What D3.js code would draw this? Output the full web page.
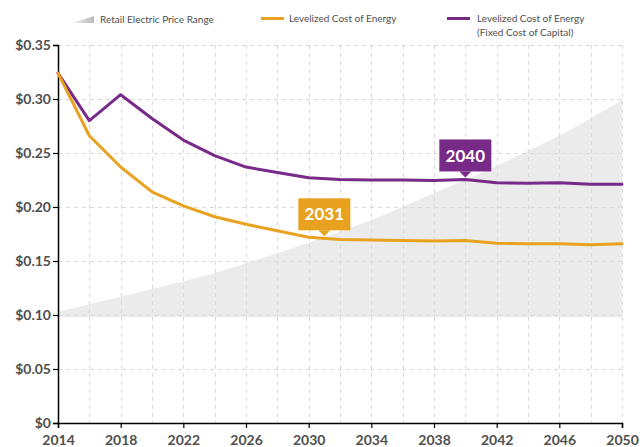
<!DOCTYPE html>
<html>
<head>
<meta charset="utf-8">
<script src="https://cdn.jsdelivr.net/npm/d3@7"></script>
<style>
  html, body { margin: 0; padding: 0; background: #fff; }
  svg { display: block; font-family: Lato, "Open Sans", sans-serif; }
</style>
</head>
<body>
<svg id="chart" width="644" height="447"></svg>
<script>
// Years on the horizontal axis (two-year steps)
const years = [2014, 2016, 2018, 2020, 2022, 2024, 2026, 2028, 2030, 2032,
               2034, 2036, 2038, 2040, 2042, 2044, 2046, 2048, 2050];

// Levelized cost of energy ($/kWh)
const lcoe = [0.324, 0.266, 0.237, 0.214, 0.201, 0.191, 0.184, 0.178, 0.172, 0.170,
              0.1695, 0.169, 0.1685, 0.169, 0.1665, 0.166, 0.166, 0.165, 0.166];

// Levelized cost of energy with a fixed cost of capital ($/kWh)
const lcoeFixed = [0.324, 0.280, 0.304, 0.282, 0.262, 0.2475, 0.237, 0.232, 0.227, 0.2255,
                   0.225, 0.225, 0.2245, 0.2255, 0.2225, 0.222, 0.2225, 0.221, 0.221];

// Retail electric price range ($/kWh)
const retailHigh = [0.103, 0.110, 0.117, 0.124, 0.131, 0.139, 0.148, 0.157, 0.167, 0.177,
                    0.188, 0.200, 0.213, 0.225, 0.238, 0.252, 0.266, 0.282, 0.299];
const retailLow = [0.098, 0.098, 0.098, 0.098, 0.098, 0.098, 0.098, 0.098, 0.098, 0.098,
                   0.098, 0.098, 0.098, 0.098, 0.098, 0.098, 0.098, 0.098, 0.098];

// Axis ticks
const yTicks = [0, 0.05, 0.10, 0.15, 0.20, 0.25, 0.30, 0.35];
const yTickLabels = ["$0", "$0.05", "$0.10", "$0.15", "$0.20", "$0.25", "$0.30", "$0.35"];
const xTicks = [2014, 2018, 2022, 2026, 2030, 2034, 2038, 2042, 2046, 2050];

// Crossover callouts
const callouts = [
  { year: 2031, label: "2031", series: "lcoe" },
  { year: 2040, label: "2040", series: "lcoeFixed" }
];

const ORANGE = "#e9a21f";
const PURPLE = "#782a89";
const AREA = "#ebebeb";
const TEXT = "#4f4f4f";

const width = 644, height = 447;
const margin = { top: 45, right: 22, bottom: 24, left: 58 };
const svg = d3.select("#chart");

const x = d3.scaleLinear().domain([2014, 2050]).range([margin.left, width - margin.right]);
const y = d3.scaleLinear().domain([0, 0.35]).range([height - margin.bottom, margin.top]);

const rows = years.map((yr, i) => ({
  year: yr, lcoe: lcoe[i], lcoeFixed: lcoeFixed[i], hi: retailHigh[i], lo: retailLow[i]
}));

// Retail price band
svg.append("path")
  .datum(rows)
  .attr("fill", AREA)
  .attr("d", d3.area().x(d => x(d.year)).y0(d => y(d.lo)).y1(d => y(d.hi)));

// Dashed grid
const grid = svg.append("g").attr("stroke", "#d9d9d9").attr("stroke-dasharray", "4,4").attr("stroke-width", 1);
grid.selectAll("line.h").data(yTicks.slice(1)).join("line")
  .attr("x1", x(2014)).attr("x2", x(2050))
  .attr("y1", d => Math.round(y(d)) + 0.5).attr("y2", d => Math.round(y(d)) + 0.5);
grid.selectAll("line.v").data(years.slice(1)).join("line")
  .attr("y1", y(0.35)).attr("y2", y(0))
  .attr("x1", d => Math.round(x(d)) + 0.5).attr("x2", d => Math.round(x(d)) + 0.5);

// Axes
const yAxis = svg.append("g")
  .attr("transform", `translate(${margin.left},0)`)
  .call(d3.axisLeft(y).tickValues(yTicks).tickFormat((d, i) => yTickLabels[i]).tickSize(5).tickPadding(2));
const xAxis = svg.append("g")
  .attr("transform", `translate(0,${height - margin.bottom})`)
  .call(d3.axisBottom(x).tickValues(xTicks).tickFormat(d3.format("d")).tickSize(5).tickPadding(3));
[yAxis, xAxis].forEach(g => {
  g.select(".domain").attr("stroke", "#000").attr("stroke-width", 1.5);
  g.selectAll(".tick line").attr("stroke", "#000").attr("stroke-width", 1.2);
  g.selectAll(".tick text")
    .attr("fill", TEXT)
    .attr("font-family", "Lato, sans-serif")
    .attr("font-weight", 700)
    .attr("font-size", 14);
});
yAxis.selectAll(".tick text").attr("dy", "0.34em");
xAxis.selectAll(".tick text").attr("y", 22).attr("dy", 0);

// Cost lines
const lineFor = key => d3.line().x(d => x(d.year)).y(d => y(d[key]));
svg.append("path").datum(rows)
  .attr("fill", "none").attr("stroke", PURPLE).attr("stroke-width", 3)
  .attr("stroke-linejoin", "round").attr("stroke-linecap", "round")
  .attr("d", lineFor("lcoeFixed"));
svg.append("path").datum(rows)
  .attr("fill", "none").attr("stroke", ORANGE).attr("stroke-width", 3)
  .attr("stroke-linejoin", "round").attr("stroke-linecap", "round")
  .attr("d", lineFor("lcoe"));

// Callouts pointing at the crossover year
const seriesData = { lcoe, lcoeFixed };
const colorOf = { lcoe: ORANGE, lcoeFixed: PURPLE };
callouts.forEach(c => {
  const vals = seriesData[c.series];
  const i = d3.bisectRight(years, c.year) - 1;
  const t = (c.year - years[i]) / (years[i + 1] - years[i]);
  const v = vals[i] + (vals[i + 1] - vals[i]) * t;
  const cx = x(c.year), tipY = y(v) - 2;
  const bw = 52, bh = 32, th = 6;
  const g = svg.append("g");
  g.append("rect")
    .attr("x", cx - bw / 2).attr("y", tipY - th - bh)
    .attr("width", bw).attr("height", bh)
    .attr("fill", colorOf[c.series]);
  g.append("path")
    .attr("d", `M${cx - 6},${tipY - th} L${cx + 6},${tipY - th} L${cx},${tipY} Z`)
    .attr("fill", colorOf[c.series]);
  g.append("text")
    .attr("x", cx).attr("y", tipY - th - bh / 2)
    .attr("dy", "0.36em")
    .attr("text-anchor", "middle")
    .attr("fill", "#fff")
    .attr("font-size", 17)
    .attr("font-weight", 700)
    .text(c.label);
});

// Legend
const legend = svg.append("g").attr("font-size", 10).attr("fill", TEXT);
const grad = svg.append("defs").append("linearGradient").attr("id", "wedge");
grad.append("stop").attr("offset", "0%").attr("stop-color", "#ececec");
grad.append("stop").attr("offset", "100%").attr("stop-color", "#bdbdbd");
legend.append("path").attr("d", "M72,23 L94,16 L94,23 Z").attr("fill", "url(#wedge)");
legend.append("text").attr("x", 100).attr("y", 23).text("Retail Electric Price Range");
legend.append("rect").attr("x", 261).attr("y", 17).attr("width", 23).attr("height", 3).attr("fill", ORANGE);
legend.append("text").attr("x", 289).attr("y", 22).text("Levelized Cost of Energy");
legend.append("rect").attr("x", 447).attr("y", 17).attr("width", 23).attr("height", 3).attr("fill", PURPLE);
legend.append("text").attr("x", 477).attr("y", 22).text("Levelized Cost of Energy");
legend.append("text").attr("x", 477).attr("y", 36).text("(Fixed Cost of Capital)");
</script>
</body>
</html>
